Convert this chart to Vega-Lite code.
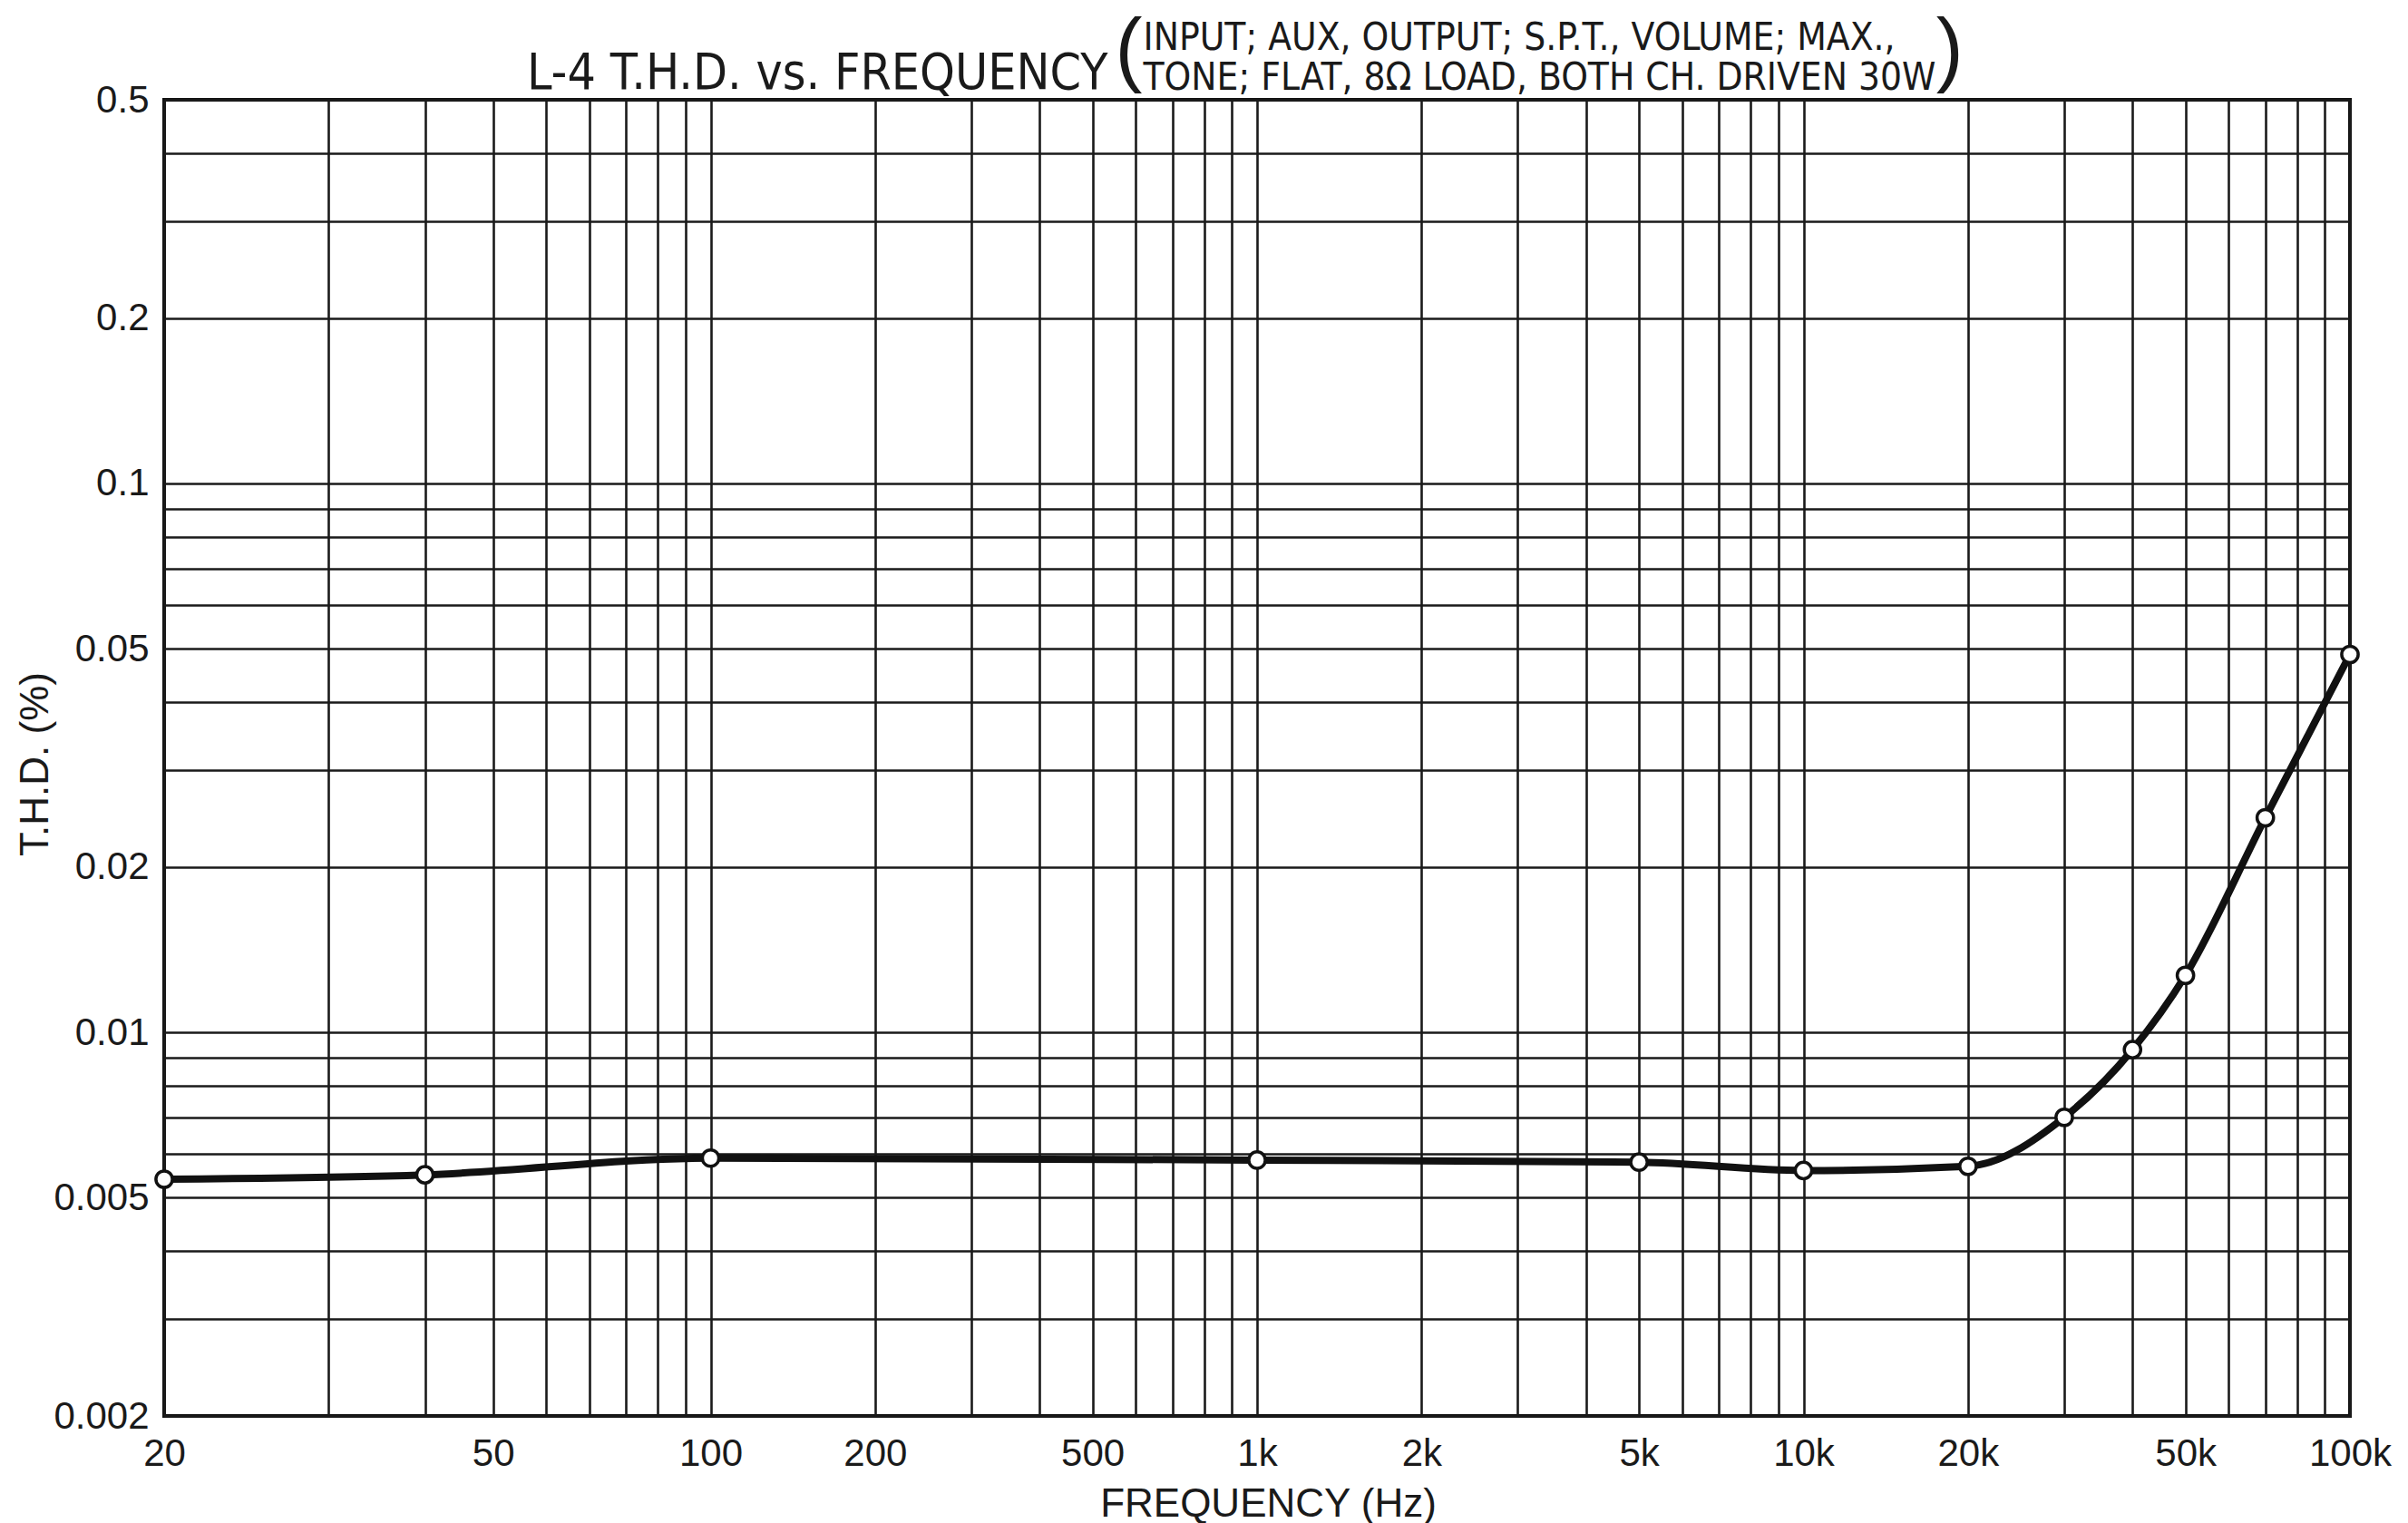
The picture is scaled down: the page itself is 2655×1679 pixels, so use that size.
{
  "$schema": "https://vega.github.io/schema/vega-lite/v6.json",
  "width": 2410,
  "height": 1451,
  "autosize": {"type": "none"},
  "padding": {"left": 181, "top": 110, "right": 64, "bottom": 118},
  "background": "white",
  "config": {
    "view": {"stroke": "#111111", "strokeWidth": 4},
    "axis": {"labelColor": "#1a1a1a", "titleColor": "#1a1a1a", "titleFontWeight": "normal"}
  },
  "title": {
    "text": "L-4 T.H.D. vs. FREQUENCY",
    "anchor": "start",
    "frame": "group",
    "dx": 400,
    "dy": 157,
    "offset": 15,
    "baseline": "alphabetic",
    "font": "DejaVu Sans Condensed, Liberation Sans Narrow, Liberation Sans",
    "fontSize": 55,
    "fontWeight": "normal",
    "color": "#1a1a1a"
  },
  "data": {
    "values": [
      {"frequency_hz": 20, "thd_pct": 0.0054},
      {"frequency_hz": 40, "thd_pct": 0.0055},
      {"frequency_hz": 100, "thd_pct": 0.0059},
      {"frequency_hz": 1000, "thd_pct": 0.00585},
      {"frequency_hz": 5000, "thd_pct": 0.0058},
      {"frequency_hz": 10000, "thd_pct": 0.0056},
      {"frequency_hz": 20000, "thd_pct": 0.0057},
      {"frequency_hz": 30000, "thd_pct": 0.0070},
      {"frequency_hz": 40000, "thd_pct": 0.0093},
      {"frequency_hz": 50000, "thd_pct": 0.0127},
      {"frequency_hz": 70000, "thd_pct": 0.0246},
      {"frequency_hz": 100000, "thd_pct": 0.0488}
    ]
  },
  "layer": [
    {
      "mark": {"type": "line", "interpolate": "monotone", "color": "#111111", "strokeWidth": 8},
      "encoding": {
        "x": {
          "field": "frequency_hz", "type": "quantitative",
          "scale": {"type": "log", "domain": [20, 40, 50, 100, 100000], "range": [0, 287.5, 362.7, 602.5, 2410], "nice": false},
          "axis": {
            "orient": "bottom",
            "title": "FREQUENCY (Hz)",
            "values": [20, 30.97, 40, 50, 59.2, 67.95, 76.37, 84.49, 92.35, 100, 200, 300, 400, 500, 600, 700, 800, 900, 1000, 2000, 3000, 4000, 5000, 6000, 7000, 8000, 9000, 10000, 20000, 30000, 40000, 50000, 60000, 70000, 80000, 90000, 100000],
            "labelExpr": "indexof([20,50,100,200,500], datum.value) >= 0 ? toString(datum.value) : (indexof([1000,2000,5000,10000,20000,50000,100000], datum.value) >= 0 ? toString(datum.value / 1000) + 'k' : '')",
            "grid": true, "gridColor": "#1a1a1a", "gridWidth": 2.6, "gridOpacity": 1,
            "ticks": false, "tickSize": 0, "domain": false,
            "labelFont": "Liberation Sans", "labelFontSize": 42, "labelPadding": 21,
            "labelFlush": false, "labelOverlap": false, "labelBaseline": "top",
            "titleFont": "Liberation Sans", "titleFontSize": 44,
            "titleX": 1217, "titleY": 110, "titleBaseline": "alphabetic", "titleAlign": "center"
          }
        },
        "y": {
          "field": "thd_pct", "type": "quantitative",
          "scale": {"type": "log", "domain": [0.002, 0.5], "nice": false},
          "axis": {
            "orient": "left",
            "title": "T.H.D. (%)",
            "values": [0.002, 0.003, 0.004, 0.005, 0.006, 0.007, 0.008, 0.009, 0.01, 0.02, 0.03, 0.04, 0.05, 0.06, 0.07, 0.08, 0.09, 0.1, 0.2, 0.3, 0.4, 0.5],
            "labelExpr": "indexof([0.5,0.2,0.1,0.05,0.02,0.01,0.005,0.002], datum.value) >= 0 ? toString(datum.value) : ''",
            "grid": true, "gridColor": "#1a1a1a", "gridWidth": 2.6, "gridOpacity": 1,
            "ticks": false, "tickSize": 0, "domain": false,
            "labelFont": "Liberation Sans", "labelFontSize": 42, "labelPadding": 17,
            "labelFlush": false, "labelOverlap": false,
            "titleFont": "Liberation Sans", "titleFontSize": 44,
            "titleAngle": -90, "titleX": -129, "titleY": 732, "titleBaseline": "alphabetic", "titleAlign": "center"
          }
        }
      }
    },
    {
      "mark": {"type": "point", "shape": "circle", "filled": true, "fill": "white", "stroke": "#111111", "strokeWidth": 3.5, "size": 330, "opacity": 1},
      "encoding": {
        "x": {
          "field": "frequency_hz", "type": "quantitative",
          "scale": {"type": "log", "domain": [20, 40, 50, 100, 100000], "range": [0, 287.5, 362.7, 602.5, 2410], "nice": false},
          "axis": {
            "orient": "top",
            "title": ["INPUT; AUX, OUTPUT; S.P.T., VOLUME; MAX.,", "TONE; FLAT, 8Ω LOAD, BOTH CH. DRIVEN 30W"],
            "labels": false, "ticks": false, "domain": false, "grid": false,
            "titleFont": "DejaVu Sans Condensed, Liberation Sans Narrow, Liberation Sans",
            "titleFontSize": 42, "titleLineHeight": 44, "titleAngle": 0,
            "titleX": 1079, "titleY": -56, "titleAlign": "left", "titleBaseline": "alphabetic"
          }
        },
        "y": {
          "field": "thd_pct", "type": "quantitative",
          "scale": {"type": "log", "domain": [0.002, 0.5], "nice": false},
          "axis": {
            "orient": "right",
            "title": "(\u00a0\u00a0\u00a0\u00a0\u00a0\u00a0\u00a0\u00a0\u00a0\u00a0\u00a0\u00a0\u00a0\u00a0\u00a0\u00a0\u00a0\u00a0\u00a0\u00a0\u00a0\u00a0\u00a0\u00a0\u00a0\u00a0\u00a0\u00a0\u00a0\u00a0\u00a0\u00a0\u00a0\u00a0\u00a0)",
            "labels": false, "ticks": false, "domain": false, "grid": false,
            "titleFont": "Liberation Sans", "titleFontSize": 90, "titleAngle": 0,
            "titleX": -1362, "titleY": -27, "titleAlign": "left", "titleBaseline": "alphabetic"
          }
        }
      }
    }
  ],
  "resolve": {
    "scale": {"x": "independent", "y": "independent"},
    "axis": {"x": "independent", "y": "independent"}
  }
}
